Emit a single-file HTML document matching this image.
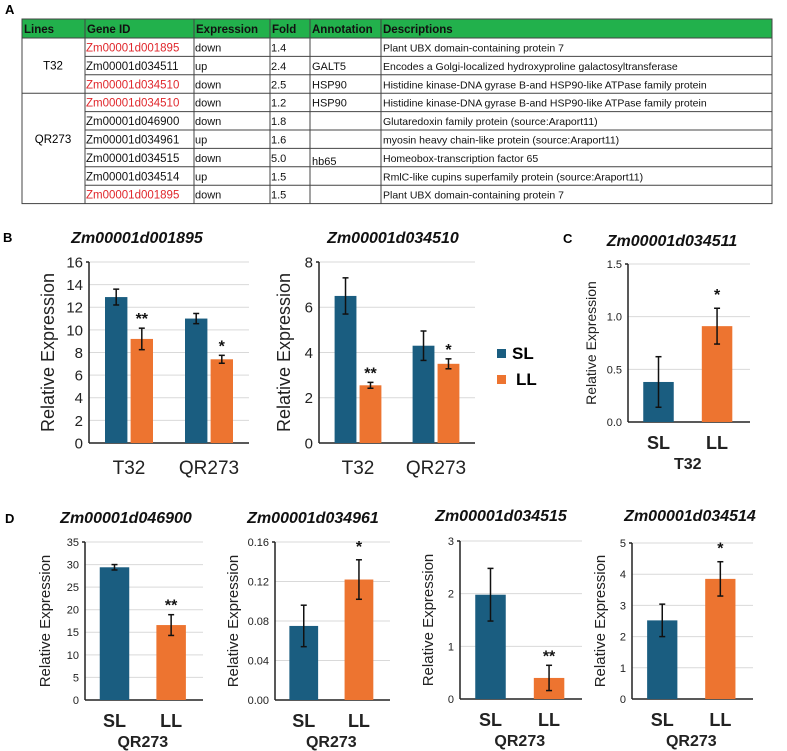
<!DOCTYPE html>
<html><head><meta charset="utf-8"><style>
html,body{margin:0;padding:0;background:#fff;width:787px;height:751px;overflow:hidden}
svg{display:block;font-family:"Liberation Sans",Arial,sans-serif}
</style></head><body>
<svg id="fig" width="787" height="751" viewBox="0 0 787 751">
<text x="5" y="14" font-size="13" font-weight="bold">A</text>
<g id="table"></g>
<text x="3" y="242" font-size="13" font-weight="bold">B</text>
<text x="563" y="243" font-size="13" font-weight="bold">C</text>
<text x="5" y="523" font-size="13" font-weight="bold">D</text>
<g id="legend">
<rect x="497" y="349" width="9" height="9" fill="#1a5d80"/>
<text x="512" y="359" font-size="17" font-weight="bold">SL</text>
<rect x="497" y="375" width="9" height="9" fill="#ed7430"/>
<text x="516" y="385" font-size="17" font-weight="bold">LL</text>
</g>
<g id="charts"></g>
</svg>
<script>
// ---- table data ----
const tblHeaders = ["Lines","Gene ID","Expression","Fold","Annotation","Descriptions"];
const tblGenes = ["Zm00001d001895","Zm00001d034511","Zm00001d034510","Zm00001d034510","Zm00001d046900","Zm00001d034961","Zm00001d034515","Zm00001d034514","Zm00001d001895"];
const tblRed = [true,false,true,true,false,false,false,false,true];
const tblExpr = ["down","up","down","down","down","up","down","up","down"];
const tblFold = ["1.4","2.4","2.5","1.2","1.8","1.6","5.0","1.5","1.5"];
const tblAnno = ["","GALT5","HSP90","HSP90","","","hb65","",""];
const tblDesc = ["Plant UBX domain-containing protein 7","Encodes a Golgi-localized hydroxyproline galactosyltransferase","Histidine kinase-DNA gyrase B-and HSP90-like ATPase family protein","Histidine kinase-DNA gyrase B-and HSP90-like ATPase family protein","Glutaredoxin family protein (source:Araport11)","myosin heavy chain-like protein (source:Araport11)","Homeobox-transcription factor 65","RmlC-like cupins superfamily protein (source:Araport11)","Plant UBX domain-containing protein 7"];

// ---- chart data ----
const b1Cats = ["T32","QR273"], b1SL = [12.9,11.0], b1LL = [9.2,7.4], b1SLerr = [0.7,0.45], b1LLerr = [0.95,0.35], b1Sig = ["**","*"], b1Ticks = [0,2,4,6,8,10,12,14,16];
const b2Cats = ["T32","QR273"], b2SL = [6.5,4.3], b2LL = [2.55,3.5], b2SLerr = [0.8,0.65], b2LLerr = [0.13,0.22], b2Sig = ["**","*"], b2Ticks = [0,2,4,6,8];
const cVals = [0.38,0.91], cErr = [0.24,0.17], cSig = ["","*"], cTicks = ["0.0","0.5","1.0","1.5"];
const d1Vals = [29.4,16.6], d1Err = [0.6,2.3], d1Sig = ["","**"], d1Ticks = ["0","5","10","15","20","25","30","35"];
const d2Vals = [0.075,0.122], d2Err = [0.021,0.02], d2Sig = ["","*"], d2Ticks = ["0.00","0.04","0.08","0.12","0.16"];
const d3Vals = [1.98,0.4], d3Err = [0.5,0.24], d3Sig = ["","**"], d3Ticks = ["0","1","2","3"];
const d4Vals = [2.52,3.85], d4Err = [0.52,0.55], d4Sig = ["","*"], d4Ticks = ["0","1","2","3","4","5"];

const NS = "http://www.w3.org/2000/svg";
const BLUE = "#1a5d80", ORANGE = "#ed7430";
function mk(tag, attrs, parent, txt){
  const e = document.createElementNS(NS, tag);
  for (const k in attrs) e.setAttribute(k, attrs[k]);
  if (txt !== undefined) e.textContent = txt;
  parent.appendChild(e); return e;
}

// ---- table ----
(function(){
  const g = document.getElementById('table');
  const cols = [22,85,194,270,310,381,772];
  const top = 19, hb = 38, rh = 18.4;
  const hdr = mk('rect',{x:22,y:top,width:750,height:hb-top,fill:'#22b14c'},g);
  
  
  tblHeaders.forEach((h,i)=>{
    const t = mk('text',{x:cols[i]+2,y:33,'font-size':11.5,'font-weight':'bold',fill:'#111'},g,h);
    
    
  });
  const bottom = hb + rh*tblGenes.length;
  mk('rect',{x:22,y:top,width:750,height:bottom-top,fill:'none',stroke:'#444','stroke-width':1},g);
  cols.slice(1,-1).forEach(x=>mk('line',{x1:x,y1:top,x2:x,y2:bottom,stroke:'#444','stroke-width':1},g));
  mk('line',{x1:22,y1:hb,x2:772,y2:hb,stroke:'#444'},g);
  for (let i=1;i<tblGenes.length;i++){
    const y = hb+rh*i;
    mk('line',{x1:(i===3?22:85),y1:y,x2:772,y2:y,stroke:'#444','stroke-width':1},g);
  }
  const l1 = mk('text',{x:53,y:hb+rh*1.5+4,'font-size':11.5,'text-anchor':'middle'},g,'T32');
   
  const l2 = mk('text',{x:53,y:hb+rh*5.5+4,'font-size':11.5,'text-anchor':'middle'},g,'QR273');
   
  tblGenes.forEach((gid,i)=>{
    const y = hb+rh*i+13.5;
    const r = mk('g',{},g);
    
    
    mk('text',{x:cols[1]+1,y:y,'font-size':11.5,fill:tblRed[i]?'#e0262b':'#111'},r,gid);
    mk('text',{x:cols[2]+1,y:y,'font-size':11,fill:'#111'},r,tblExpr[i]);
    mk('text',{x:cols[3]+1,y:y,'font-size':11,fill:'#111'},r,tblFold[i]);
    mk('text',{x:cols[4]+2,y:y+(i===6?3:0),'font-size':11,fill:'#111'},r,tblAnno[i]);
    mk('text',{x:cols[5]+2,y:y,'font-size':10.5,fill:'#111'},r,tblDesc[i]);
  });
})();

// ---- chart drawing ----
function yScale(v,y0,yTop,max){ return y0-(v/max)*(y0-yTop); }
function errBar(g,cx,v,e,o,name){
  const yh = yScale(v+e,o.y0,o.yTop,o.max), yl = yScale(v-e,o.y0,o.yTop,o.max);
  const eb = mk('g',{},g);
  
  
  mk('line',{x1:cx,y1:yh,x2:cx,y2:yl,stroke:'#111','stroke-width':1.5},eb);
  mk('line',{x1:cx-3,y1:yh,x2:cx+3,y2:yh,stroke:'#111','stroke-width':1.5},eb);
  mk('line',{x1:cx-3,y1:yl,x2:cx+3,y2:yl,stroke:'#111','stroke-width':1.5},eb);
  return yh;
}
function axisFrame(g,o,ticks){
  ticks.forEach(t=>{
    const y = yScale(parseFloat(t),o.y0,o.yTop,o.max);
    if (parseFloat(t)>0) mk('line',{x1:o.ax,y1:y,x2:o.right,y2:y,stroke:'#d9d9d9','stroke-width':1},g);
    const tl = mk('text',{x:o.ax-6,y:y+o.tfs*0.36,'font-size':o.tfs,'text-anchor':'end',fill:'#222'},g,t);
    
    
  });
  mk('line',{x1:o.ax,y1:o.yTop,x2:o.ax,y2:o.y0,stroke:'#222','stroke-width':1.5},g);
  mk('line',{x1:o.ax-3,y1:o.yTop,x2:o.ax,y2:o.yTop,stroke:'#222','stroke-width':1.5},g);
  mk('line',{x1:o.ax,y1:o.y0,x2:o.right,y2:o.y0,stroke:'#222','stroke-width':1.5},g);
  const yl = mk('text',{x:o.ylx,y:(o.y0+o.yTop)/2,'font-size':o.yfs,'text-anchor':'middle',transform:`rotate(-90 ${o.ylx} ${(o.y0+o.yTop)/2})`,fill:'#222'},g,'Relative Expression');
  
  
  const ti = mk('text',{x:o.tx,y:o.ty,'font-size':o.tifs,'font-weight':'bold','font-style':'italic','text-anchor':'middle',fill:'#111'},g,o.title);
  
  
}
function groupedChart(name,o,cats,sl,ll,slE,llE,sig,ticks){
  const g = mk('g',{},document.getElementById('charts'));
  
  
  axisFrame(g,o,ticks.map(String));
  const n = cats.length, gw = (o.right-o.ax)/n, bw = gw*0.28, gap = gw*0.04;
  cats.forEach((c,i)=>{
    const gc = o.ax+gw*(i+0.5);
    const x1 = gc-gap/2-bw, x2 = gc+gap/2;
    const ys = yScale(sl[i],o.y0,o.yTop,o.max), yl = yScale(ll[i],o.y0,o.yTop,o.max);
    const b1 = mk('rect',{x:x1,y:ys,width:bw,height:o.y0-ys,fill:BLUE},g);
    
    
    const b2 = mk('rect',{x:x2,y:yl,width:bw,height:o.y0-yl,fill:ORANGE},g);
    
    
    errBar(g,x1+bw/2,sl[i],slE[i],o,'error-bar-sl-'+c.toLowerCase());
    const top = errBar(g,x2+bw/2,ll[i],llE[i],o,'error-bar-ll-'+c.toLowerCase());
    if (sig[i]){
      const s = mk('text',{x:x2+bw/2,y:top-4,'font-size':16,'font-weight':'bold','text-anchor':'middle',fill:'#111'},g,sig[i]);
      
      
    }
    const xl = mk('text',{x:gc,y:o.y0+31,'font-size':19,'text-anchor':'middle',fill:'#222'},g,c);
    
    
  });
}
function pairChart(name,o,vals,errs,sig,ticks){
  const g = mk('g',{},document.getElementById('charts'));
  
  
  axisFrame(g,o,ticks);
  const labels = ["SL","LL"], colors = [BLUE,ORANGE];
  const w = o.right-o.ax, bw = w*0.25;
  vals.forEach((v,i)=>{
    const cx = o.ax + w*(i===0?0.25:0.73);
    const y = yScale(v,o.y0,o.yTop,o.max);
    const b = mk('rect',{x:cx-bw/2,y:y,width:bw,height:o.y0-y,fill:colors[i]},g);
    
    
    const top = errBar(g,cx,v,errs[i],o,'error-bar-'+labels[i].toLowerCase());
    if (sig[i]){
      const s = mk('text',{x:cx,y:top-(sig[i]==='*'?8:4),'font-size':16,'font-weight':'bold','text-anchor':'middle',fill:'#111'},g,sig[i]);
      
      
    }
    const xl = mk('text',{x:cx,y:o.y0+27,'font-size':18,'font-weight':'bold','text-anchor':'middle',fill:'#222'},g,labels[i]);
    
    
  });
  const xt = mk('text',{x:o.ax+w*0.49,y:o.y0+47,'font-size':16,'font-weight':'bold','text-anchor':'middle',fill:'#222'},g,o.xtitle);
  
  
}

groupedChart('chart-zm00001d001895',{ax:89,right:249,y0:443,yTop:262,max:16,tfs:15,yfs:18,ylx:54,tx:137,ty:243,tifs:16,title:'Zm00001d001895'},b1Cats,b1SL,b1LL,b1SLerr,b1LLerr,b1Sig,b1Ticks);
groupedChart('chart-zm00001d034510',{ax:319,right:475,y0:443,yTop:262,max:8,tfs:15,yfs:18,ylx:290,tx:393,ty:243,tifs:16,title:'Zm00001d034510'},b2Cats,b2SL,b2LL,b2SLerr,b2LLerr,b2Sig,b2Ticks);
pairChart('chart-zm00001d034511',{ax:628,right:750,y0:422,yTop:264,max:1.5,tfs:11,yfs:14,ylx:596,tx:672,ty:246,tifs:16,title:'Zm00001d034511',xtitle:'T32'},cVals,cErr,cSig,cTicks);
pairChart('chart-zm00001d046900',{ax:85,right:203,y0:700,yTop:542,max:35,tfs:11,yfs:15,ylx:50,tx:126,ty:523,tifs:16,title:'Zm00001d046900',xtitle:'QR273'},d1Vals,d1Err,d1Sig,d1Ticks);
pairChart('chart-zm00001d034961',{ax:275,right:390,y0:700,yTop:542,max:0.16,tfs:11,yfs:15,ylx:238,tx:313,ty:523,tifs:16,title:'Zm00001d034961',xtitle:'QR273'},d2Vals,d2Err,d2Sig,d2Ticks);
pairChart('chart-zm00001d034515',{ax:460,right:582,y0:699,yTop:541,max:3,tfs:11,yfs:15,ylx:433,tx:501,ty:521,tifs:16,title:'Zm00001d034515',xtitle:'QR273'},d3Vals,d3Err,d3Sig,d3Ticks);
pairChart('chart-zm00001d034514',{ax:632,right:753,y0:699,yTop:543,max:5,tfs:11,yfs:15,ylx:605,tx:690,ty:521,tifs:16,title:'Zm00001d034514',xtitle:'QR273'},d4Vals,d4Err,d4Sig,d4Ticks);
</script>
</body></html>
